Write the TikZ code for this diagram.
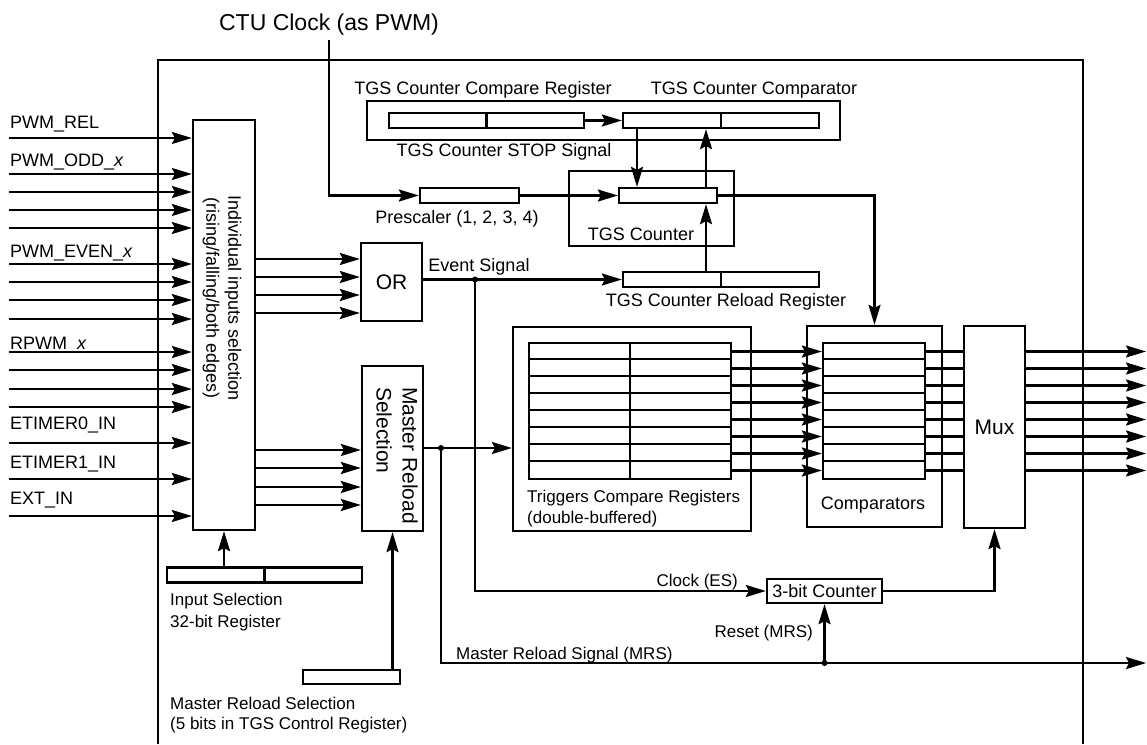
\documentclass[tikz,border=0pt]{standalone}
\usepackage{fontspec}
\setmainfont{Liberation Sans}
\usetikzlibrary{positioning, arrows.meta}

\newcommand\lblfont{\fontsize{18}{22}\selectfont}
\newcommand\smfont{\fontsize{17}{22}\selectfont}
\newcommand\boxfont{\fontsize{21}{26}\selectfont}
\newcommand\ttlfont{\fontsize{23}{28}\selectfont}

\tikzset{
  box/.style={draw, line width=2.3pt, inner sep=0pt},
  reg/.style={draw, line width=2.3pt, inner sep=0pt, minimum height=15pt},
  wire/.style={line width=2.3pt},
  sig/.style={line width=2.3pt, -{Stealth[length=20pt,width=12pt,inset=3pt]}},
  lbl/.style={font=\lblfont, inner sep=0pt},
  sml/.style={font=\smfont, inner sep=0pt},
}

\begin{document}
\begin{tikzpicture}[x=1pt, y=-1pt]
    \useasboundingbox (0,0) rectangle (1147,744);

    % Outer frame
    \draw[wire] (158,744) -- (158,60) -- (1083,60) -- (1083,744);

    % CTU Clock
    \node[font=\ttlfont, inner sep=0pt, anchor=base] (ctu) at (329,30) {CTU Clock (as PWM)};
    \coordinate (ctuin) at (329,40);

    % TGS Counter Compare Register / Comparator
    \node[box, minimum width=473, minimum height=39] (cmpgrp) at (603.5,120.5) {};
    \node[reg, minimum width=195] (cmpreg) at (486.5,120.5) {};
    \node[reg, minimum width=196] (cmptr) at (721,120.5) {};
    \draw[wire] (cmpreg.north) -- (cmpreg.south);
    \draw[wire] (cmptr.north) -- (cmptr.south);
    \node[lbl, anchor=base] (cmpreglbl) at (483,94.5) {TGS Counter Compare Register};
    \node[lbl, anchor=base] (cmptrlbl) at (754,94.5) {TGS Counter Comparator};
    \node[lbl, anchor=base] (stoplbl) at (504,156.5) {TGS Counter STOP Signal};
    \draw[sig] (cmpreg) -- (cmptr);

    % Prescaler
    \node[reg, minimum width=99] (presc) at (469.5,195.5) {};
    \node[lbl, anchor=base] (presclbl) at (457,223.5) {Prescaler (1, 2, 3, 4)};
    \draw[sig] (ctuin) |- (presc.west);

    % TGS Counter
    \node[box, minimum width=165, minimum height=75] (cntbox) at (651.5,208.5) {};
    \node[reg, minimum width=98] (cnt) at (668,195.5) {};
    \node[lbl, anchor=base] (cntlbl) at (641,240.5) {TGS Counter};
    \draw[sig] (presc) -- (cnt);
    \coordinate (stopx) at (637,0);
    \coordinate (cntx) at (706,0);
    \draw[sig] (cmptr.south -| stopx) -- (cnt.north -| stopx);
    \draw[sig] (cnt.north -| cntx) -- (cmptr.south -| cntx);

    % TGS Counter Reload Register
    \node[reg, minimum width=196] (rld) at (721,279.5) {};
    \draw[wire] (rld.north) -- (rld.south);
    \node[lbl, anchor=base] (rldlbl) at (726,306.5) {TGS Counter Reload Register};
    \draw[sig] (rld.north -| cntx) -- (cnt.south -| cntx);

    % Individual inputs selection
    \node[box, minimum width=62, minimum height=410] (sel) at (224,325) {};
    \node[lbl, rotate=-90, align=center] (seltxt) at (222,298) {Individual inputs selection\\(rising/falling/both edges)};

    % Inputs
    \foreach \y [count=\i] in {138,174,192,210,228,264,282,300,319,352,370,389,407,443,479,516} {
        \coordinate (in\i) at (9,\y);
        \draw[sig] (in\i) -- (in\i -| sel.west);
    }
    \node[lbl, anchor=base west] (lrel) at (10,128.5) {PWM\_REL};
    \node[lbl, anchor=base west] (lodd) at (10,166) {PWM\_ODD\_\textit{x}};
    \node[lbl, anchor=base west] (leven) at (10,257) {PWM\_EVEN\_\textit{x}};
    \node[lbl, anchor=base west] (lrpwm) at (10,349) {RPWM\_\textit{x}};
    \node[lbl, anchor=base west] (let0) at (10,429) {ETIMER0\_IN};
    \node[lbl, anchor=base west] (let1) at (10,468) {ETIMER1\_IN};
    \node[lbl, anchor=base west] (lext) at (10,504) {EXT\_IN};

    % OR
    \node[box, minimum width=61, minimum height=78, font=\boxfont] (or) at (391.5,282) {OR};
    \foreach \y [count=\i] in {259,277,295,313} {
        \coordinate (o\i) at (0,\y);
        \draw[sig] (sel.east |- o\i) -- (or.west |- o\i);
    }

    % Event Signal
    \coordinate (esdot) at (475,279.5);
    \draw[sig] (rld.west -| or.east) -- (rld.west);
    \fill (esdot) circle (3);
    \node[lbl, anchor=base] (eslbl) at (479,271.5) {Event Signal};

    % Master Reload Selection
    \node[box, minimum width=61, minimum height=165] (mrsel) at (392.5,448.5) {};
    \node[font=\boxfont, rotate=-90, align=left, anchor=north west, inner sep=0pt] (mrtxt) at (418,387) {Master Reload\\Selection};
    \foreach \y [count=\i] in {450,468,487,505} {
        \coordinate (m\i) at (0,\y);
        \draw[sig] (sel.east |- m\i) -- (mrsel.west |- m\i);
    }

    % Input Selection register
    \node[reg, minimum width=195] (isreg) at (264.5,575) {};
    \draw[wire] (isreg.north) -- (isreg.south);
    \draw[sig] (isreg.north -| sel.south) -- (sel.south);
    \node[sml, anchor=base west] (islbl) at (170,605) {Input Selection};
    \node[sml, anchor=base west] (isbits) at (170,627) {32-bit Register};

    % Master Reload Selection register
    \node[reg, minimum width=97, minimum height=14] (mrreg) at (351.5,677) {};
    \draw[sig] (mrreg.north -| mrsel.south) -- (mrsel.south);
    \node[sml, anchor=base west] (mrreglbl) at (170,709) {Master Reload Selection};
    \node[sml, anchor=base west] (mrregbits) at (170,729) {(5 bits in TGS Control Register)};

    % Triggers Compare Registers
    \node[box, minimum width=238, minimum height=204] (trigbox) at (632,429) {};
    \node[box, minimum width=202, minimum height=136] (trig) at (630,411) {};
    \draw[wire] (trig.north) -- (trig.south);
    \node[sml, anchor=base west] (triglbl) at (527,502) {Triggers Compare Registers};
    \node[sml, anchor=base west] (trigbuf) at (527,523) {(double-buffered)};

    % Comparators
    \node[box, minimum width=135, minimum height=201] (cmpbox) at (874.5,426.5) {};
    \node[box, minimum width=102, minimum height=136] (cmpr) at (874,411) {};
    \node[lbl, anchor=base] (cmplbl) at (873,509.5) {Comparators};
    \draw[sig] (cnt.east) -| (cmpbox.north);

    % Mux
    \node[box, minimum width=61, minimum height=202, font=\boxfont] (mux) at (994.5,427) {Mux};

    % register rows and trigger lines
    \foreach \k in {1,...,7} {
        \draw[wire] (trig.north west) ++(0,{17*\k}) -- ++(202,0);
        \draw[wire] (cmpr.north west) ++(0,{17*\k}) -- ++(102,0);
    }
    \foreach \k in {0,...,7} {
        \coordinate (row\k) at (0,{351.5+17*\k});
        \coordinate (out\k) at (1146,{351.5+17*\k});
        \draw[sig] (trig.east |- row\k) -- (cmpr.west |- row\k);
        \draw[wire] (cmpr.east |- row\k) -- (mux.west |- row\k);
        \draw[sig] (mux.east |- row\k) -- (out\k);
    }

    % Master reload signal to triggers
    \coordinate (mrdot) at (441,448);
    \draw[sig] (mrsel.east |- mrdot) -- (trigbox.west |- mrdot);

    % 3-bit Counter
    \node[box, minimum width=115, minimum height=24, font=\lblfont] (c3) at (824.5,591) {3-bit Counter};
    \draw[sig] (esdot) |- (c3.west);
    \draw[sig] (c3.east) -| (mux.south);
    \node[sml, anchor=base east] (clklbl) at (738,586) {Clock (ES)};

    % Master Reload Signal (MRS)
    \coordinate (mrsout) at (1146,663);
    \coordinate (mrsdot) at (824.5,663);
    \draw[sig] (mrdot) |- (mrsout);
    \draw[sig] (mrsdot) -- (c3.south);
    \fill (mrdot) circle (3);
    \fill (mrsdot) circle (3);
    \node[sml, anchor=base west] (mrslbl) at (456,659) {Master Reload Signal (MRS)};
    \node[sml, anchor=base east] (rstlbl) at (813,637) {Reset (MRS)};
\end{tikzpicture}
\end{document}
